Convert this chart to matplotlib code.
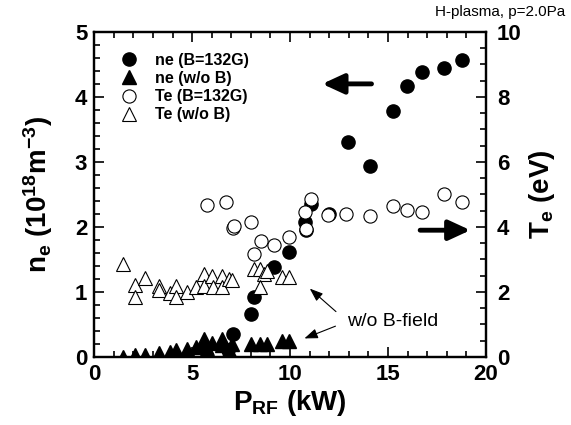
import matplotlib
matplotlib.use('Agg')
import matplotlib.pyplot as plt
import numpy as np

# H-plasma, p=2.0Pa : electron density and temperature vs RF power
ne_B_x = [5.75, 6.85, 7.1, 8.0, 8.15, 9.2, 9.95, 10.75, 10.8, 11.05, 12.0,
          12.95, 14.1, 15.25, 15.95, 16.75, 17.85, 18.8]
ne_B_y = [0.02, 0.1, 0.36, 0.66, 0.92, 1.38, 1.62, 2.08, 1.95, 2.36, 2.2,
          3.31, 2.93, 3.79, 4.17, 4.38, 4.44, 4.57]

ne_noB_x = [1.45, 2.1, 2.6, 3.3, 3.85, 4.2, 4.75, 5.2, 5.6, 5.6, 6.0, 6.55,
            6.55, 6.9, 7.05, 8.0, 8.45, 8.8, 9.6, 9.95]
ne_noB_y = [0.0, 0.03, 0.03, 0.06, 0.08, 0.11, 0.13, 0.16, 0.27, 0.18, 0.22,
            0.27, 0.18, 0.11, 0.2, 0.2, 0.2, 0.2, 0.25, 0.25]

Te_B_x = [5.75, 6.75, 7.1, 7.15, 8.0, 8.15, 8.5, 9.2, 9.95, 10.75, 10.8,
          11.05, 11.95, 12.85, 14.1, 15.25, 15.95, 16.75, 17.85, 18.8]
Te_B_y = [4.68, 4.76, 3.96, 4.02, 4.16, 3.17, 3.58, 3.45, 3.68, 4.45, 3.93,
          4.85, 4.37, 4.39, 4.34, 4.65, 4.52, 4.47, 5.02, 4.77]

Te_noB_x = [1.45, 2.1, 2.1, 2.6, 3.3, 3.3, 3.85, 4.2, 4.2, 4.75, 5.2, 5.6,
            5.6, 6.0, 6.05, 6.55, 6.55, 6.9, 7.05, 8.15, 8.45, 8.65, 8.8,
            8.45, 9.6, 9.95]
Te_noB_y = [2.85, 2.22, 1.86, 2.42, 2.18, 2.06, 1.96, 2.18, 1.86, 2.01, 2.16,
            2.54, 2.18, 2.49, 2.14, 2.49, 2.16, 2.39, 2.37, 2.7, 2.7, 2.55,
            2.66, 2.16, 2.47, 2.47]

plt.rcParams['font.family'] = ['Liberation Sans', 'DejaVu Sans']
plt.rcParams['mathtext.fontset'] = 'custom'
plt.rcParams['mathtext.rm'] = 'Liberation Sans'
plt.rcParams['mathtext.bf'] = 'Liberation Sans:bold'
plt.rcParams['mathtext.it'] = 'Liberation Sans:italic'

fig = plt.figure(figsize=(5.71, 4.25), dpi=100)
ax = fig.add_axes([0.165, 0.16, 0.686, 0.765])
ax2 = ax.twinx()

ms = 9.5
h1, = ax.plot(ne_B_x, ne_B_y, 'o', color='black', ms=ms, ls='none',
              label='ne (B=132G)')
h2, = ax.plot(ne_noB_x, ne_noB_y, '^', color='black', ms=ms, ls='none',
              label='ne (w/o B)')
h3, = ax2.plot(Te_B_x, Te_B_y, 'o', mfc='white', mec='black', mew=0.8,
               ms=ms, ls='none', label='Te (B=132G)')
h4, = ax2.plot(Te_noB_x, Te_noB_y, '^', mfc='white', mec='black', mew=0.8,
               ms=ms, ls='none', label='Te (w/o B)')

ax.set_xlim(0, 20)
ax.set_ylim(0, 5)
ax2.set_ylim(0, 10)
ax.set_xticks([0, 5, 10, 15, 20])
ax.set_xticks(np.arange(0, 21, 1), minor=True)
ax.set_yticks([0, 1, 2, 3, 4, 5])
ax.set_yticks(np.arange(0, 5.01, 0.2), minor=True)
ax2.set_yticks([0, 2, 4, 6, 8, 10])
ax2.set_yticks(np.arange(0, 10.01, 0.5), minor=True)

for a in (ax, ax2):
    for sp in a.spines.values():
        sp.set_linewidth(1.6)
    a.tick_params(which='both', direction='in', width=1.2, labelsize=16,
                  pad=5)
    a.tick_params(which='major', length=7)
    a.tick_params(which='minor', length=4)
    for lab in a.get_xticklabels() + a.get_yticklabels():
        lab.set_fontweight('bold')
ax.tick_params(which='both', top=True)
ax2.tick_params(axis='y', pad=8)

ax.set_xlabel(r'$\mathbf{P_{RF}}$ (kW)', fontsize=20, fontweight='bold',
              labelpad=2)
ax.set_ylabel(r'$\mathbf{n_e}$ (10$^{\mathbf{18}}$m$^{\mathbf{-3}}$)',
              fontsize=20, fontweight='bold', labelpad=14)
ax2.set_ylabel(r'$\mathbf{T_e}$ (eV)', fontsize=20, fontweight='bold',
               labelpad=4)

leg = ax2.legend(handles=[h1, h2, h3, h4], loc='upper left',
                 bbox_to_anchor=(0.02, 0.97), frameon=False,
                 prop={'weight': 'bold', 'size': 11.5}, handletextpad=0.6,
                 labelspacing=0.2, borderaxespad=0.3)

fig.text(0.99, 0.972, 'H-plasma, p=2.0Pa', ha='right', va='center',
         fontsize=11)

# direction arrows
ax.annotate('', xy=(11.5, 4.2), xytext=(14.3, 4.2),
            arrowprops=dict(arrowstyle='-|>,head_length=1.3,head_width=0.6',
                            color='black', lw=3.5))
ax2.annotate('', xy=(19.35, 3.9), xytext=(16.5, 3.9),
             arrowprops=dict(arrowstyle='-|>,head_length=1.3,head_width=0.6',
                             color='black', lw=3.5))

# w/o B-field label with pointer arrows
ax.text(12.9, 0.54, 'w/o B-field', fontsize=14, va='center', ha='left')
ax.annotate('', xy=(10.9, 1.08), xytext=(12.45, 0.67),
            arrowprops=dict(arrowstyle='-|>,head_length=0.8,head_width=0.3',
                            color='black', lw=0.8))
ax.annotate('', xy=(10.6, 0.27), xytext=(12.45, 0.49),
            arrowprops=dict(arrowstyle='-|>,head_length=0.8,head_width=0.3',
                            color='black', lw=0.8))

fig.savefig('out.png', dpi=100)
